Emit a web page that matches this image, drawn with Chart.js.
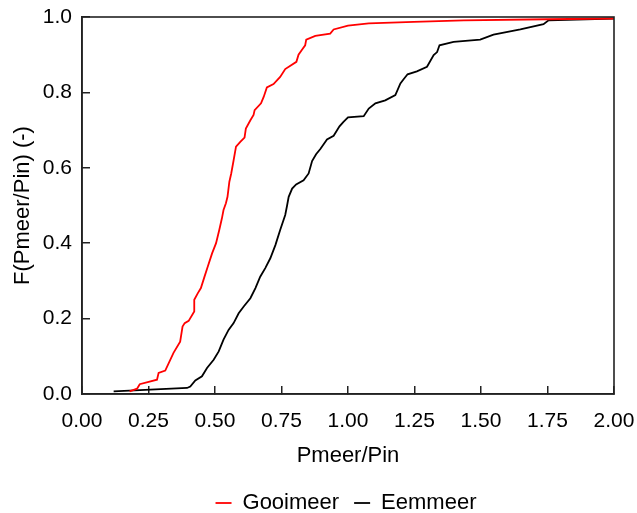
<!DOCTYPE html>
<html>
<head>
<meta charset="utf-8">
<script src="https://cdn.jsdelivr.net/npm/chart.js@4/dist/chart.umd.min.js"></script>
<style>
html,body{margin:0;padding:0;background:#fff;}
#wrap{width:637px;height:513px;}
</style>
</head>
<body>
<div id="wrap"><canvas id="c" width="637" height="513"></canvas></div>
<script>
const seriesNames = ["Gooimeer", "Eemmeer"];
const seriesColors = ["#ff0000", "#000000"];

const gooimeerX = [0.179,0.207,0.217,0.282,0.288,0.313,0.344,0.369,0.378,0.386,0.401,0.422,0.422,0.435,0.447,0.460,0.472,0.489,0.504,0.516,0.526,0.532,0.541,0.547,0.550,0.554,0.561,0.570,0.579,0.595,0.611,0.616,0.633,0.645,0.649,0.673,0.683,0.695,0.720,0.745,0.764,0.806,0.814,0.827,0.839,0.843,0.877,0.933,0.946,1.000,1.078,1.247,1.435,1.748,2.000];
const gooimeerY = [0.007,0.014,0.026,0.038,0.056,0.062,0.109,0.139,0.179,0.188,0.194,0.219,0.250,0.267,0.281,0.310,0.336,0.373,0.400,0.435,0.466,0.488,0.506,0.523,0.540,0.563,0.585,0.620,0.656,0.669,0.680,0.704,0.726,0.740,0.753,0.771,0.788,0.813,0.822,0.841,0.862,0.881,0.900,0.913,0.925,0.940,0.950,0.956,0.967,0.977,0.983,0.987,0.991,0.994,0.996];

const eemmeerX = [0.119,0.395,0.407,0.426,0.451,0.470,0.495,0.514,0.532,0.551,0.570,0.589,0.608,0.633,0.652,0.670,0.689,0.708,0.727,0.745,0.764,0.771,0.777,0.790,0.805,0.833,0.852,0.865,0.880,0.896,0.915,0.921,0.946,0.968,0.983,1.000,1.059,1.078,1.103,1.140,1.178,1.197,1.209,1.224,1.259,1.297,1.322,1.335,1.344,1.397,1.497,1.547,1.648,1.735,1.754,2.000];
const eemmeerY = [0.007,0.016,0.020,0.036,0.047,0.069,0.091,0.113,0.144,0.170,0.188,0.214,0.232,0.254,0.281,0.311,0.334,0.360,0.395,0.435,0.475,0.500,0.523,0.545,0.556,0.567,0.585,0.618,0.636,0.650,0.669,0.675,0.685,0.710,0.722,0.734,0.737,0.757,0.771,0.779,0.793,0.824,0.835,0.848,0.856,0.868,0.899,0.907,0.925,0.934,0.940,0.953,0.967,0.981,0.991,0.996];

const xTicks = [0,0.25,0.5,0.75,1,1.25,1.5,1.75,2];
const yTicks = [0,0.2,0.4,0.6,0.8,1.0];
const xTitle = "Pmeer/Pin";
const yTitle = "F(Pmeer/Pin) (-)";

function pts(xs, ys){ return xs.map((x,i)=>({x:x, y:ys[i]})); }

const FONT = "'Liberation Sans', Arial, sans-serif";

const framePlugin = {
  id: 'frame',
  afterDraw(chart){
    const a = chart.chartArea, ctx = chart.ctx;
    ctx.save();
    ctx.strokeStyle = '#222';
    ctx.lineWidth = 1.6;
    ctx.strokeRect(a.left, a.top, a.right - a.left, a.bottom - a.top);
    ctx.restore();
  }
};
const legendShift = {
  id: 'legendShift',
  afterLayout(chart){
    const l = chart.legend;
    if (l) { l.top += 11; l.bottom += 11; l.left += 39; l.right += 39; }
  }
};

new Chart(document.getElementById('c'), {
  type: 'scatter',
  data: {
    datasets: [
      {label: seriesNames[0], data: pts(gooimeerX, gooimeerY), showLine: true, borderColor: seriesColors[0], backgroundColor: seriesColors[0], borderWidth: 1.8, pointRadius: 0, tension: 0},
      {label: seriesNames[1], data: pts(eemmeerX, eemmeerY), showLine: true, borderColor: seriesColors[1], backgroundColor: seriesColors[1], borderWidth: 1.8, pointRadius: 0, tension: 0}
    ]
  },
  options: {
    responsive: false,
    animation: false,
    devicePixelRatio: 1,
    layout: {padding: {top: 17, right: 23, left: 0, bottom: 0}},
    plugins: {
      legend: {
        position: 'bottom',
        labels: {
          usePointStyle: true,
          pointStyle: 'line',
          pointStyleWidth: 16,
          boxHeight: 2,
          padding: 15,
          color: '#000',
          font: {family: FONT, size: 22}
        }
      },
      tooltip: {enabled: false}
    },
    scales: {
      x: {
        type: 'linear', min: 0, max: 2,
        afterBuildTicks(s){ s.ticks = xTicks.map(v=>({value:v})); },
        afterFit(s){ s.height = 72; s.paddingLeft = 0; s.paddingRight = 0; },
        grid: {display: true, drawOnChartArea: false, drawTicks: true, tickLength: -8, color: '#222', lineWidth: 1.5},
        border: {display: true, color: '#222', width: 1.6},
        ticks: {color: '#000', padding: 23, font: {family: FONT, size: 21}, callback: v => Number(v).toFixed(2), maxRotation: 0, autoSkip: false},
        title: {display: true, text: xTitle, color: '#000', font: {family: FONT, size: 22}, padding: {top: -3, bottom: -3}}
      },
      y: {
        type: 'linear', min: 0, max: 1,
        afterBuildTicks(s){ s.ticks = yTicks.map(v=>({value:v})); },
        afterFit(s){ s.width = 82; s.paddingTop = 0; s.paddingBottom = 0; },
        grid: {display: true, drawOnChartArea: false, drawTicks: true, tickLength: -8, color: '#222', lineWidth: 1.5},
        border: {display: true, color: '#222', width: 1.6},
        ticks: {color: '#000', padding: 18, font: {family: FONT, size: 21}, callback: v => Number(v).toFixed(1)},
        title: {display: true, text: yTitle, color: '#000', font: {family: FONT, size: 22}, padding: {top: 10, bottom: 0}}
      }
    }
  },
  plugins: [framePlugin, legendShift]
});
</script>
</body>
</html>
